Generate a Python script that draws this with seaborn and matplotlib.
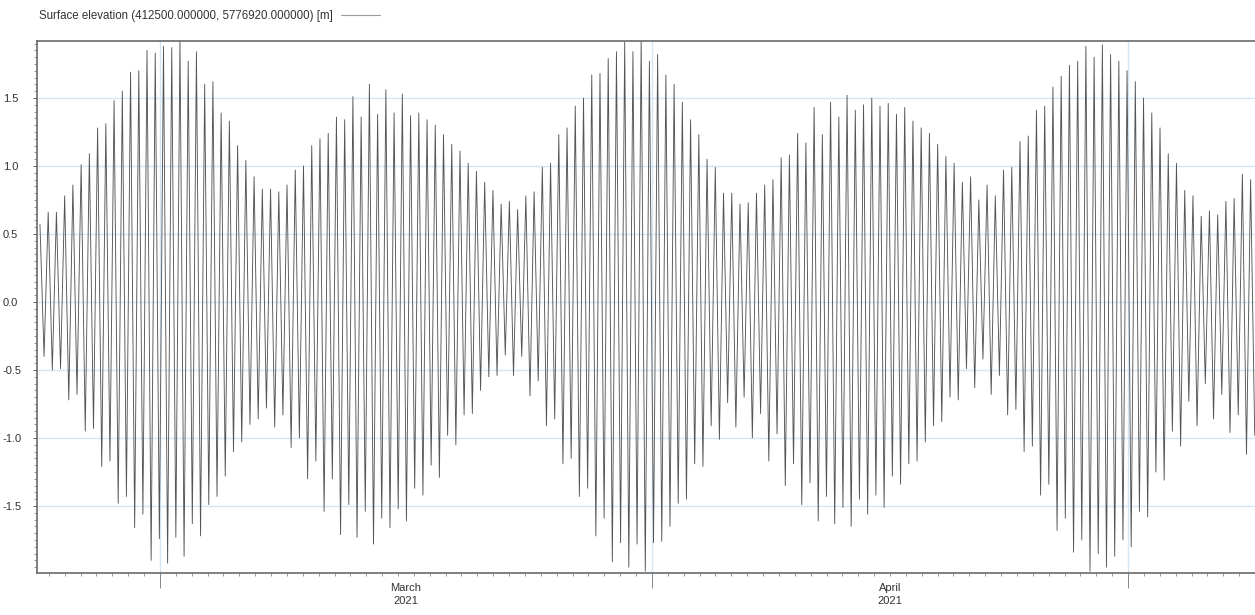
import numpy as np
import pandas as pd
import matplotlib
matplotlib.use("Agg")
import matplotlib.pyplot as plt
import matplotlib.dates as mdates
from matplotlib.ticker import MultipleLocator, FormatStrFormatter
import seaborn as sns

# Tidal crests (high waters), left to right [m]
highs = [0.57, 0.66, 0.66, 0.78, 0.86, 1.01, 1.09, 1.28, 1.31, 1.48,
         1.55, 1.69, 1.70, 1.85, 1.83, 1.88, 1.87, 1.93, 1.77, 1.84,
         1.60, 1.62, 1.39, 1.33, 1.15, 1.04, 0.92, 0.83, 0.83, 0.81,
         0.86, 0.97, 1.00, 1.15, 1.20, 1.24, 1.36, 1.34, 1.51, 1.36,
         1.60, 1.38, 1.56, 1.39, 1.53, 1.37, 1.39, 1.34, 1.30, 1.23,
         1.16, 1.11, 1.02, 0.96, 0.88, 0.82, 0.72, 0.74, 0.68,
         0.78, 0.81, 0.99, 1.02, 1.23, 1.28, 1.44, 1.50, 1.67, 1.68,
         1.79, 1.84, 1.91, 1.84, 1.93, 1.77, 1.82, 1.67, 1.60, 1.47,
         1.34, 1.23, 1.05, 0.99, 0.80, 0.80, 0.72, 0.73, 0.80, 0.86,
         0.90, 1.06, 1.08, 1.24, 1.17, 1.43, 1.23, 1.47, 1.36, 1.52,
         1.41, 1.45, 1.50, 1.44, 1.46, 1.38, 1.43, 1.33, 1.28, 1.24,
         1.16, 1.07, 1.02, 0.88, 0.92, 0.75, 0.86, 0.78, 0.97,
         0.99, 1.18, 1.22, 1.41, 1.44, 1.58, 1.66, 1.74, 1.77, 1.88,
         1.80, 1.89, 1.82, 1.77, 1.70, 1.62, 1.50, 1.39, 1.28, 1.09,
         1.02, 0.82, 0.78, 0.63, 0.67, 0.64, 0.74, 0.76, 0.94, 0.90]

# Tidal troughs (low waters), each one following the crest above [m]
lows = [-0.40, -0.50, -0.49, -0.72, -0.68, -0.95, -0.93, -1.21, -1.17, -1.48,
        -1.43, -1.66, -1.56, -1.90, -1.74, -1.92, -1.73, -1.87, -1.63, -1.72,
        -1.49, -1.43, -1.28, -1.10, -1.03, -0.90, -0.86, -0.78, -0.92,
        -0.83, -1.07, -1.00, -1.30, -1.17, -1.54, -1.30, -1.71, -1.49, -1.73,
        -1.54, -1.78, -1.59, -1.66, -1.52, -1.61, -1.37, -1.42, -1.20, -1.29,
        -0.98, -1.05, -0.83, -0.82, -0.65, -0.55, -0.54, -0.39, -0.54, -0.40,
        -0.69, -0.58, -0.91, -0.86, -1.19, -1.15, -1.43, -1.37, -1.72, -1.59,
        -1.91, -1.77, -1.95, -1.78, -1.98, -1.77, -1.76, -1.65, -1.48, -1.45,
        -1.19, -1.21, -0.91, -1.01, -0.74, -0.92, -0.70, -1.00, -0.82,
        -1.17, -0.97, -1.35, -1.19, -1.49, -1.33, -1.61, -1.43, -1.63, -1.51,
        -1.65, -1.45, -1.56, -1.42, -1.51, -1.28, -1.34, -1.19, -1.17, -1.03,
        -0.91, -0.88, -0.70, -0.72, -0.49, -0.63, -0.42, -0.68, -0.54, -0.83,
        -0.79, -1.10, -1.06, -1.42, -1.34, -1.68, -1.59, -1.84, -1.75, -1.98,
        -1.85, -1.95, -1.87, -1.75, -1.80, -1.54, -1.58, -1.25, -1.31, -0.95,
        -1.06, -0.73, -0.91, -0.60, -0.86, -0.68, -0.96, -0.83, -1.12, -0.98]

first_extreme = "2021-02-21 10:30"
last_extreme = "2021-05-08 23:35"
view_start = "2021-02-21 05:30"
view_end = "2021-05-09 00:00"

series_label = "Surface elevation (412500.000000, 5776920.000000) [m]"
month_labels = ["March\n2021", "April\n2021"]
month_starts = ["2021-03-01", "2021-04-01", "2021-05-01"]

elevation = [v for pair in zip(highs, lows) for v in pair]
times = pd.date_range(first_extreme, last_extreme, periods=len(elevation))
df = pd.DataFrame({"time": times, "elevation": elevation})

sns.set_style("white")
plt.rcParams["font.family"] = ["Liberation Sans", "DejaVu Sans"]

fig = plt.figure(figsize=(12.55, 6.15), dpi=100)
ax = fig.add_axes([0.0292, 0.0678, 0.9708, 0.866])

sns.lineplot(data=df, x="time", y="elevation", ax=ax, estimator=None,
             color="#555555", linewidth=0.65, label=series_label)

ax.set_xlim(pd.Timestamp(view_start), pd.Timestamp(view_end))
ax.set_ylim(-1.995, 1.921)
ax.set_xlabel("")
ax.set_ylabel("")

# y axis: labels every 0.5, small ticks every 0.05
ax.yaxis.set_major_locator(MultipleLocator(0.5))
ax.yaxis.set_minor_locator(MultipleLocator(0.05))
ax.yaxis.set_major_formatter(FormatStrFormatter("%.1f"))
ax.tick_params(axis="y", which="major", length=3, width=0.7, color="#666666",
               labelsize=8, labelcolor="#333333", pad=21.3, left=True)
ax.tick_params(axis="y", which="minor", length=2, width=0.6, color="#888888", left=True)
for lab in ax.get_yticklabels():
    lab.set_horizontalalignment("left")

# x axis: long ticks at month starts, small ticks each day, label mid-month
ax.set_xticks([pd.Timestamp(d) for d in month_starts])
ax.xaxis.set_minor_locator(mdates.DayLocator())
ax.tick_params(axis="x", which="major", length=11, width=0.7, color="#888888",
               labelbottom=False, bottom=True)
ax.tick_params(axis="x", which="minor", length=2.5, width=0.6, color="#888888",
               bottom=True)
for i, lab in enumerate(month_labels):
    a = pd.Timestamp(month_starts[i])
    b = pd.Timestamp(month_starts[i + 1])
    ax.text(a + (b - a) / 2, -0.019, lab, transform=ax.get_xaxis_transform(),
            ha="center", va="top", fontsize=8, color="#333333", linespacing=1.3)

ax.grid(True, which="major", axis="both", color="#d3e6f7", linewidth=1.0)
ax.set_axisbelow(True)

for side in ["top", "left", "bottom"]:
    ax.spines[side].set_color("#6a6a6a")
    ax.spines[side].set_linewidth(1.2)
ax.spines["right"].set_visible(False)

leg = ax.legend(loc="lower left", bbox_to_anchor=(-0.003, 1.024), frameon=False,
                markerfirst=False, fontsize=8.3, handlelength=3.4,
                handletextpad=0.7, borderaxespad=0.3, borderpad=0.2)
for t in leg.get_texts():
    t.set_color("#333333")
for h in leg.get_lines():
    h.set_color("#9a9a9a")
    h.set_linewidth(0.8)

fig.savefig("out.png", dpi=100)
